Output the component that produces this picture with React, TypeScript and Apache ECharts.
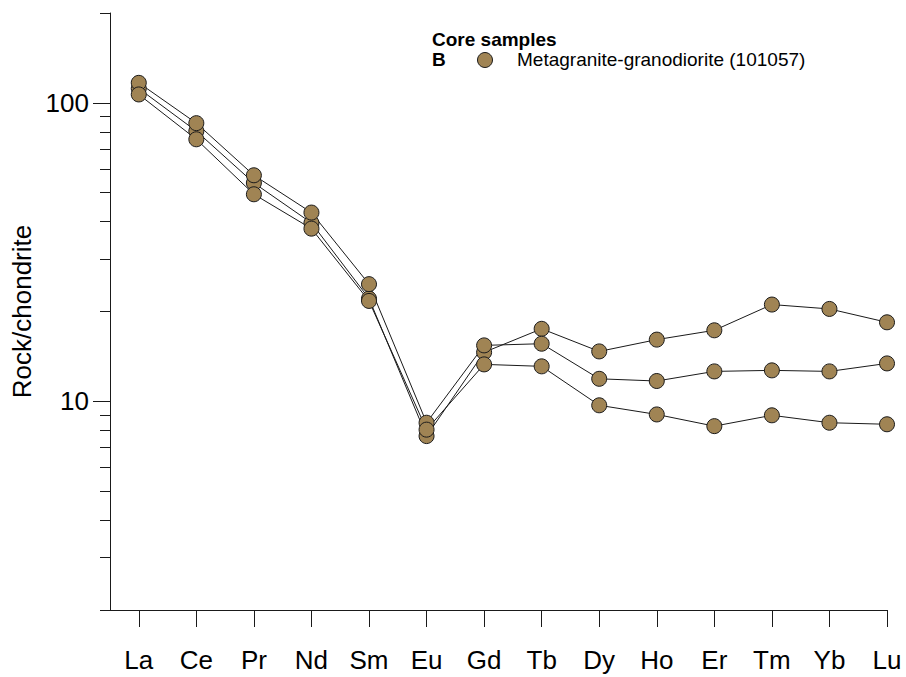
import React, { useEffect, useRef } from "react";
import * as echarts from "echarts";

const categories = ["La", "Ce", "Pr", "Nd", "Sm", "Eu", "Gd", "Tb", "Dy", "Ho", "Er", "Tm", "Yb", "Lu"];
const sampleA = [111.7, 80.4, 53.9, 39.6, 22.1, 7.65, 14.6, 17.5, 14.7, 16.1, 17.3, 21.1, 20.4, 18.4];
const sampleB = [116.7, 85.5, 57.2, 42.9, 24.7, 8.48, 15.4, 15.6, 11.9, 11.7, 12.6, 12.7, 12.6, 13.4];
const sampleC = [106.7, 75.5, 49.4, 37.9, 21.7, 8.04, 13.3, 13.1, 9.7, 9.04, 8.26, 8.98, 8.48, 8.38];
const majorTicks = [10, 100];
const minorTicks = [2, 3, 4, 5, 6, 7, 8, 9, 20, 30, 40, 50, 60, 70, 80, 90, 200];
const seriesName = "Metagranite-granodiorite (101057)";
const legendTitle = "Core samples";
const legendGroup = "B";
const yTitle = "Rock/chondrite";

const FONT = "'Liberation Sans', Arial, Helvetica, sans-serif";
const MARKER = "#A08454";
const INK = "#1a1a1a";

export default function App() {
  const ref = useRef<HTMLDivElement>(null);
  useEffect(() => {
    document.body.style.margin = "0";
    if (!ref.current) return;
    const chart = echarts.init(ref.current, undefined, { renderer: "svg" });
    const samples = [sampleA, sampleB, sampleC];
    const toPairs = (arr: number[]) => arr.map((v, i) => [i, v]);
    const gridBox = { left: 110, right: 19, top: 13, bottom: 67 };
    const xIdx = categories.map((_, i) => i);

    const lineSeries = samples.map((s) => ({
      type: "line",
      name: seriesName,
      data: toPairs(s),
      symbol: "none",
      lineStyle: { color: INK, width: 1 },
      z: 2,
    }));
    const pointSeries = samples.map((s) => ({
      type: "scatter",
      name: seriesName,
      data: toPairs(s),
      symbol: "circle",
      symbolSize: 15,
      itemStyle: { color: MARKER, borderColor: INK, borderWidth: 1, opacity: 1 },
      z: 3,
    }));

    chart.setOption({
      animation: false,
      backgroundColor: "#fff",
      textStyle: { fontFamily: FONT },
      grid: [
        { ...gridBox, containLabel: false },
        { ...gridBox, containLabel: false },
      ],
      xAxis: [
        {
          type: "value",
          gridIndex: 0,
          min: -0.5,
          max: 13,
          axisLine: { show: true, onZero: false, lineStyle: { color: INK, width: 1 } },
          axisTick: { show: true, length: 17, customValues: xIdx, lineStyle: { color: INK, width: 1 } },
          axisLabel: {
            show: true,
            customValues: xIdx,
            formatter: (v: number) => categories[Math.round(v)] ?? "",
            fontSize: 26,
            color: "#000",
            margin: 37,
            fontFamily: FONT,
          },
          splitLine: { show: false },
        },
        {
          type: "value",
          gridIndex: 1,
          min: -0.5,
          max: 13,
          show: false,
          axisLine: { onZero: false },
        },
      ],
      yAxis: [
        {
          type: "log",
          gridIndex: 0,
          logBase: 10,
          min: 2,
          max: 200,
          name: yTitle,
          nameLocation: "middle",
          nameGap: 68,
          nameTextStyle: { fontSize: 26, color: "#000", fontFamily: FONT },
          axisLine: { show: true, onZero: false, lineStyle: { color: INK, width: 1 } },
          axisTick: { show: true, length: 17, customValues: majorTicks, lineStyle: { color: INK, width: 1 } },
          axisLabel: {
            show: true,
            customValues: majorTicks,
            fontSize: 26,
            color: "#000",
            margin: 21,
            fontFamily: FONT,
          },
          splitLine: { show: false },
          minorTick: { show: false },
        },
        {
          type: "log",
          gridIndex: 1,
          logBase: 10,
          min: 2,
          max: 200,
          axisLine: { show: false, onZero: false },
          axisTick: { show: true, length: 10, customValues: minorTicks, lineStyle: { color: INK, width: 1 } },
          axisLabel: { show: false },
          splitLine: { show: false },
        },
      ],
      series: [...lineSeries, ...pointSeries],
      graphic: [
        {
          type: "text",
          left: 432,
          top: 30,
          style: { text: legendTitle, font: `bold 19px ${FONT}`, fill: "#000" },
        },
        {
          type: "text",
          left: 432,
          top: 50,
          style: { text: legendGroup, font: `bold 19px ${FONT}`, fill: "#000" },
        },
        {
          type: "circle",
          shape: { cx: 485, cy: 60, r: 7.5 },
          style: { fill: MARKER, stroke: INK, lineWidth: 1 },
        },
        {
          type: "text",
          left: 517,
          top: 50,
          style: { text: seriesName, font: `19px ${FONT}`, fill: "#000" },
        },
      ],
    });
    return () => chart.dispose();
  }, []);
  return <div ref={ref} style={{ width: 906, height: 677 }} />;
}
